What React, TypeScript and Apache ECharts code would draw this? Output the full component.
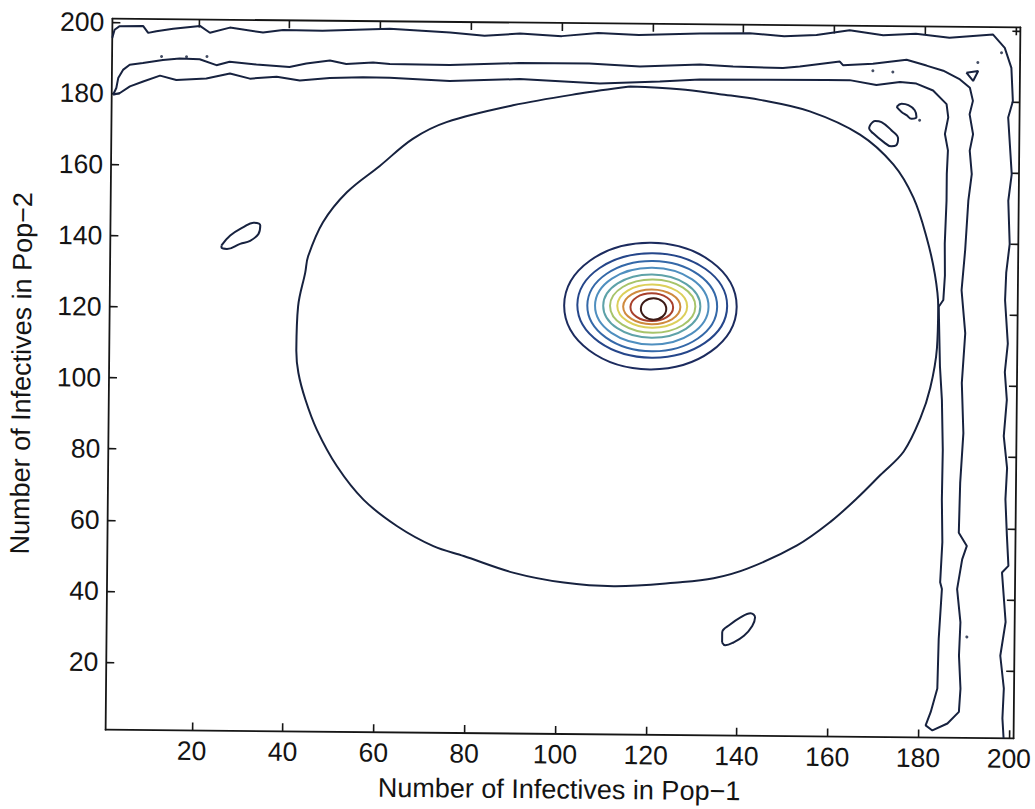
import React, { useEffect, useRef } from "react";
import * as echarts from "echarts";

// ---------- tick labels & titles ----------
const xTicks = [20, 40, 60, 80, 100, 120, 140, 160, 180, 200];
const yTicks = [20, 40, 60, 80, 100, 120, 140, 160, 180, 200];
const xTitle = "Number of Infectives in Pop\u22121";
const yTitle = "Number of Infectives in Pop\u22122";

// ---------- concentric peak contours (centre x, centre y, half-width x, half-width y) ----------
const ringCx = [120.1, 120.5, 120.5, 120.4, 120.4, 120.6, 120.5, 120.4, 120.4, 120.8];
const ringCy = [121.6, 121.8, 121.6, 121.6, 121.6, 121.6, 121.6, 121.4, 121.3, 120.8];
const ringRx = [19.0, 16.5, 14.3, 12.5, 10.7, 9.4, 7.7, 6.3, 4.7, 2.8];
const ringRy = [17.8, 14.7, 12.7, 10.8, 8.9, 7.5, 6.1, 4.9, 3.9, 3.0];

// ---------- large closed contour ----------
const ovalContour = [
  [115.1, 183.3], [104.1, 181.2], [89.4, 177.7], [74.8, 172.8], [67.4, 168.0], [60.2, 160.3],
  [53.0, 152.8], [47.8, 144.3], [44.6, 134.7], [44.0, 130.1], [42.5, 120.6], [42.2, 108.4],
  [42.7, 101.9], [44.3, 94.4], [46.9, 85.9], [51.4, 75.7], [57.3, 66.4], [64.8, 59.0],
  [72.8, 53.5], [79.5, 50.8], [90.6, 46.2], [101.6, 43.6], [112.6, 42.7], [127.3, 44.0],
  [134.6, 45.2], [142.0, 48.0], [152.9, 54.7], [160.2, 61.4], [166.0, 68.1], [171.1, 74.7],
  [176.2, 81.4], [179.8, 90.8], [181.9, 99.3], [183.3, 110.6], [183.5, 121.9], [182.7, 131.2],
  [180.8, 141.6], [177.8, 152.8], [173.3, 162.1], [165.9, 170.4], [154.8, 176.8], [143.8, 179.9],
  [134.9, 181.4], [126.1, 182.7], [115.1, 183.3],
];

// ---------- outer frame-hugging contour (open) ----------
const outerContour = [
  [1.0, 195.6], [1.5, 197.9], [2.6, 198.9], [7.8, 199.0], [8.9, 197.1], [10.7, 197.6],
  [14.4, 198.3], [20.3, 199.2], [22.5, 197.3], [26.9, 198.8], [34.2, 197.5], [38.6, 198.3],
  [47.3, 198.2], [62.1, 198.9], [75.4, 198.0], [83.0, 197.2], [90.8, 197.9], [100.0, 197.3],
  [108.0, 198.3], [117.0, 197.8], [130.4, 198.4], [141.4, 198.6], [149.0, 197.9], [156.1, 198.3],
  [163.4, 199.7], [170.8, 198.4], [178.0, 198.9], [185.4, 197.9], [195.0, 198.9], [197.6, 195.2],
  [199.1, 189.6], [199.5, 180.2], [198.5, 175.6], [199.4, 159.7], [198.7, 152.2], [199.1, 140.0],
  [198.4, 132.0], [198.2, 124.2], [198.9, 112.0], [198.3, 104.0], [198.8, 96.2], [198.2, 86.0],
  [199.0, 77.0], [198.7, 68.2], [199.1, 58.0], [199.5, 49.5], [198.1, 47.6], [199.0, 33.7],
  [197.9, 24.2], [198.75, 15.0], [198.5, 6.6], [198.8, 1.0],
];

// ---------- closed band along top and right edges ----------
const bandContour = [
  [1.3, 179.6], [2.8, 180.1], [5.0, 182.0], [7.9, 183.4], [11.6, 185.1], [15.2, 183.9],
  [21.8, 184.4], [27.0, 185.9], [31.4, 184.5], [37.3, 185.1], [42.4, 184.1], [49.0, 184.9],
  [56.3, 185.2], [62.2, 185.1], [75.4, 184.4], [90.8, 185.1], [108.5, 184.1], [121.7, 184.8],
  [130.5, 185.5], [145.2, 185.6], [158.4, 185.7], [163.5, 185.7], [169.4, 184.4], [174.6, 185.3],
  [178.2, 184.9], [181.9, 183.0], [184.9, 179.2], [185.3, 175.5], [184.6, 170.8], [185.3, 166.2],
  [185.1, 159.6], [185.1, 152.1], [184.8, 140.0], [184.9, 131.0], [184.6, 124.1], [183.6, 122.2],
  [184.0, 105.4], [184.5, 96.0], [184.8, 82.0], [184.7, 68.0], [184.9, 56.0], [184.5, 44.7],
  [184.9, 42.8], [184.3, 28.8], [184.1, 14.8], [182.7, 8.2], [181.6, 4.4], [183.1, 3.0],
  [186.4, 5.0], [188.9, 8.3], [189.2, 14.8], [188.8, 24.1], [189.05, 33.5], [188.25, 42.8],
  [189.3, 51.2], [190.3, 55.0], [188.5, 58.7], [188.7, 72.7], [189.3, 86.7], [188.85, 100.8],
  [189.5, 114.8], [188.6, 126.9], [189.3, 138.1], [189.9, 152.1], [190.6, 159.6], [190.1, 166.2],
  [190.8, 170.8], [190.0, 176.4], [190.7, 180.2], [190.0, 183.9], [187.8, 186.2], [184.1, 188.6],
  [180.4, 190.0], [176.0, 191.6], [168.6, 190.4], [162.0, 189.9], [161.3, 190.9], [152.5, 189.4],
  [148.8, 188.9], [137.8, 189.2], [130.5, 189.7], [117.3, 189.0], [106.1, 189.7], [90.7, 189.6],
  [75.4, 188.9], [62.2, 189.0], [58.5, 189.4], [52.6, 188.9], [49.0, 189.8], [43.8, 188.9],
  [40.1, 187.9], [32.8, 188.5], [26.9, 189.2], [24.0, 188.2], [20.3, 189.8], [15.9, 190.0],
  [12.2, 189.5], [7.8, 188.6], [4.9, 188.1], [3.5, 186.7], [2.4, 184.3], [2.0, 181.5], [1.3, 179.6],
];

// ---------- small islands ----------
const islandA = [
  [25.5, 137.5], [27.4, 140.3], [30.3, 142.7], [32.5, 144.0], [34.0, 143.2], [33.6, 140.8],
  [31.8, 138.9], [29.6, 138.0], [26.7, 136.5], [25.5, 137.0], [25.5, 137.5],
];
const islandB = [
  [136.6, 27.2], [136.6, 30.0], [138.4, 32.3], [140.6, 34.3], [142.8, 35.5], [143.8, 34.3],
  [143.2, 31.9], [141.4, 29.1], [139.1, 27.2], [137.3, 26.4], [136.6, 27.2],
];
const islandC = [
  [168.1, 173.1], [169.2, 174.3], [170.6, 174.0], [172.8, 171.7], [174.3, 169.4], [173.9, 167.5],
  [172.8, 167.2], [171.0, 168.5], [168.8, 170.8], [167.9, 172.2], [168.1, 173.1],
];
const islandD = [
  [173.9, 178.3], [175.0, 179.2], [176.5, 178.8], [177.9, 177.4], [178.3, 175.5], [177.2, 175.0],
  [176.1, 176.0], [175.0, 176.9], [173.9, 178.3],
];
const islandE = [[189.2, 188.1], [191.8, 188.6], [190.7, 185.8], [189.2, 188.1]];

// tiny specks
const specks = [
  [11.9, 190.5], [17.4, 190.5], [21.9, 190.6], [168.6, 188.4], [173.0, 188.1],
  [191.7, 191.0], [196.9, 193.8], [179.0, 174.6], [190.5, 29.4],
];

// ---------- styles ----------
const LINE = "#17223f";
const AXIS = "#161616";
const FONT = "'Liberation Sans', Arial, Helvetica, sans-serif";
const ringColors = [
  "#1c2b5e", "#25468a", "#3468a8", "#4f8fbf", "#5ea2a8",
  "#a7c46a", "#dccf5a", "#cf8a3e", "#a8402c", "#3c1a16",
];

function lineSeries(data: number[][], smooth: number | boolean = false) {
  return {
    type: "line",
    data,
    xAxisIndex: 0,
    yAxisIndex: 0,
    showSymbol: false,
    symbol: "none",
    smooth,
    silent: true,
    lineStyle: { color: LINE, width: 2 },
  };
}

export default function App() {
  const ref = useRef<HTMLDivElement>(null);

  useEffect(() => {
    if (!ref.current) return;
    const chart = echarts.init(ref.current, null, { renderer: "svg" });

    const ringData = ringCx.map((cx, i) => [cx, ringCy[i], ringRx[i], ringRy[i]]);

    const axisCommon = {
      type: "value",
      min: 1,
      max: 201,
      splitLine: { show: false },
      axisLine: { show: true, onZero: false, lineStyle: { color: AXIS, width: 1.8 } },
    };

    const option: any = {
      animation: false,
      backgroundColor: "#ffffff",
      grid: { left: 109, right: 18, top: 23, bottom: 75, containLabel: false, outerBoundsMode: "none" },
      xAxis: [
        {
          ...axisCommon,
          position: "bottom",
          axisTick: { show: true, inside: true, length: 8, customValues: xTicks, lineStyle: { color: AXIS, width: 1.6 } },
          axisLabel: { customValues: xTicks, fontSize: 26.5, fontFamily: FONT, color: "#141414", margin: 7 },
          name: xTitle,
          nameLocation: "middle",
          nameGap: 42,
          nameTextStyle: { fontSize: 27, fontFamily: FONT, color: "#141414" },
        },
        {
          ...axisCommon,
          position: "top",
          axisTick: { show: true, inside: true, length: 8, customValues: xTicks, lineStyle: { color: AXIS, width: 1.6 } },
          axisLabel: { show: false },
        },
      ],
      yAxis: [
        {
          ...axisCommon,
          position: "left",
          axisTick: { show: true, inside: true, length: 8, customValues: yTicks, lineStyle: { color: AXIS, width: 1.6 } },
          axisLabel: { customValues: yTicks, fontSize: 26.5, fontFamily: FONT, color: "#141414", margin: 8 },
          name: yTitle,
          nameLocation: "middle",
          nameGap: 74,
          nameTextStyle: { fontSize: 27, fontFamily: FONT, color: "#141414" },
        },
        {
          ...axisCommon,
          position: "right",
          axisTick: { show: true, inside: true, length: 8, customValues: yTicks, lineStyle: { color: AXIS, width: 1.6 } },
          axisLabel: { show: false },
        },
      ],
      series: [
        lineSeries(outerContour),
        lineSeries(bandContour),
        lineSeries(ovalContour, 0.35),
        lineSeries(islandA, 0.4),
        lineSeries(islandB, 0.4),
        lineSeries(islandC, 0.4),
        lineSeries(islandD, 0.4),
        lineSeries(islandE),
        {
          type: "scatter",
          data: specks,
          xAxisIndex: 0,
          yAxisIndex: 0,
          symbol: "circle",
          symbolSize: 3,
          silent: true,
          itemStyle: { color: LINE },
        },
        {
          type: "custom",
          xAxisIndex: 0,
          yAxisIndex: 0,
          silent: true,
          data: ringData,
          encode: { x: 0, y: 1 },
          renderItem: (params: any, api: any) => {
            const c = api.coord([api.value(0), api.value(1)]);
            const s = api.size([api.value(2), api.value(3)]);
            return {
              type: "ellipse",
              shape: { cx: c[0], cy: c[1], rx: s[0], ry: s[1] },
              style: { fill: "none", stroke: ringColors[params.dataIndex], lineWidth: 2 },
            };
          },
        },
      ],
    };

    chart.setOption(option);
    return () => chart.dispose();
  }, []);

  return (
    <div
      style={{
        position: "fixed",
        left: 0,
        top: 0,
        width: 1035,
        height: 809,
        overflow: "hidden",
        background: "#ffffff",
      }}
    >
      <div
        ref={ref}
        style={{
          width: 1035,
          height: 809,
          transform: "rotate(0.55deg)",
          transformOrigin: "562.85px 378.9px",
        }}
      />
    </div>
  );
}
